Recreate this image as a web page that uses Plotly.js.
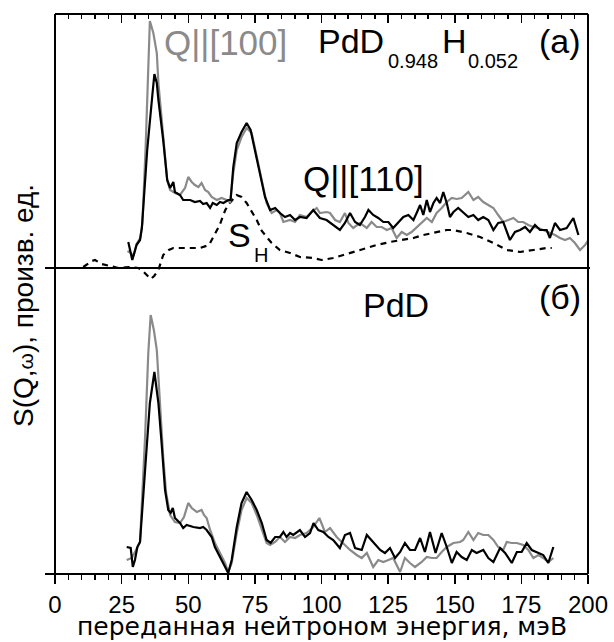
<!DOCTYPE html>
<html><head><meta charset="utf-8">
<script src="https://cdn.plot.ly/plotly-3.0.1.min.js"></script>
<style>html,body{margin:0;padding:0;background:#fff}#chart{width:614px;height:642px}</style>
</head><body><div id="chart"></div>
<script>
// Panel (a): PdD0.948H0.052  — [energy meV, intensity]
const a_Q100 = [[27.2,0.17],[28.5,0.15],[29.5,0.12],[30.6,0.24],[32.0,0.30],[32.8,0.45],[34.0,1.20],[35.0,2.00],[35.6,2.47],[36.9,2.35],[38.2,2.15],[38.8,1.85],[40.0,1.51],[41.3,1.18],[42.1,0.88],[43.2,0.78],[45.0,0.75],[46.9,0.73],[48.8,0.80],[50.0,0.91],[51.3,0.86],[52.5,0.83],[53.8,0.81],[55.0,0.85],[56.3,0.78],[57.5,0.76],[58.8,0.71],[60.7,0.68],[62.5,0.70],[64.4,0.68],[65.7,0.66],[66.9,0.95],[68.2,1.18],[70.0,1.31],[71.9,1.40],[73.8,1.35],[75.7,1.11],[77.6,0.86],[79.4,0.65],[81.3,0.55],[83.2,0.58],[84.4,0.55],[85.7,0.46],[88.2,0.48],[90.1,0.46],[91.9,0.53],[94.4,0.51],[96.3,0.56],[98.2,0.60],[99.4,0.55],[101.9,0.56],[103.2,0.55],[105.1,0.48],[106.9,0.46],[108.8,0.55],[110.1,0.45],[111.9,0.40],[114.4,0.45],[117.0,0.40],[118.8,0.46],[120.7,0.41],[122.6,0.41],[124.5,0.38],[126.3,0.40],[128.2,0.30],[130.1,0.36],[132.0,0.33],[133.8,0.36],[135.7,0.41],[137.6,0.45],[139.5,0.50],[141.4,0.46],[143.2,0.55],[145.1,0.60],[147.0,0.66],[148.9,0.70],[150.7,0.69],[152.6,0.70],[155.1,0.76],[157.0,0.68],[158.8,0.71],[160.7,0.66],[162.6,0.63],[164.5,0.60],[166.3,0.53],[168.2,0.46],[170.1,0.48],[172.0,0.50],[173.8,0.46],[175.7,0.46],[177.6,0.43],[179.5,0.41],[181.4,0.40],[183.2,0.38],[185.7,0.35],[187.6,0.33],[189.5,0.30],[191.4,0.28],[193.2,0.30],[195.1,0.25],[197.0,0.18],[198.9,0.23],[200.6,0.30]];
const a_Q110 = [[27.5,0.26],[29.0,0.08],[30.6,0.23],[31.9,0.28],[32.6,0.40],[34.6,1.18],[36.5,1.72],[37.3,1.94],[38.2,1.85],[38.8,1.68],[40.6,1.28],[42.1,0.88],[43.2,0.80],[44.4,0.86],[45.0,0.76],[46.9,0.73],[48.1,0.68],[50.7,0.68],[52.5,0.66],[54.4,0.67],[55.6,0.64],[56.9,0.65],[58.2,0.60],[59.2,0.65],[60.7,0.63],[61.9,0.66],[63.2,0.65],[65.0,0.68],[65.9,0.68],[66.9,1.01],[68.2,1.25],[70.0,1.36],[71.9,1.45],[73.4,1.38],[75.0,1.18],[76.9,0.95],[78.8,0.71],[80.7,0.58],[82.6,0.60],[84.4,0.55],[86.3,0.51],[88.2,0.53],[90.1,0.48],[91.9,0.51],[94.4,0.50],[96.9,0.58],[99.4,0.50],[101.9,0.48],[104.4,0.43],[106.9,0.38],[108.8,0.45],[110.7,0.55],[112.6,0.46],[114.4,0.43],[116.3,0.51],[117.6,0.58],[119.4,0.53],[121.3,0.50],[123.2,0.46],[125.1,0.46],[126.9,0.40],[128.8,0.46],[130.7,0.51],[132.6,0.53],[134.5,0.48],[135.7,0.55],[137.0,0.63],[138.2,0.53],[139.5,0.68],[140.7,0.56],[142.0,0.65],[143.2,0.70],[144.5,0.65],[145.7,0.76],[147.0,0.65],[148.2,0.51],[149.5,0.56],[151.3,0.60],[153.2,0.55],[155.1,0.51],[157.0,0.53],[158.8,0.48],[160.7,0.51],[162.6,0.48],[164.5,0.38],[166.3,0.45],[168.2,0.46],[170.7,0.28],[172.6,0.36],[174.5,0.38],[176.4,0.41],[178.2,0.36],[180.1,0.43],[182.0,0.38],[184.5,0.38],[185.7,0.30],[187.6,0.45],[189.5,0.38],[192.0,0.40],[194.5,0.50],[196.4,0.33]];
const a_SH = [[10.6,0.01],[13.8,0.07],[15.0,0.08],[17.5,0.04],[20.6,0.02],[23.8,0.00],[27.5,0.01],[31.3,0.00],[32.9,-0.03],[34.6,-0.08],[35.9,-0.11],[37.2,-0.08],[38.8,-0.02],[40.6,0.13],[42.7,0.18],[44.4,0.20],[46.9,0.20],[50.0,0.20],[54.4,0.20],[57.8,0.23],[59.4,0.31],[61.8,0.43],[63.9,0.58],[65.3,0.64],[68.1,0.73],[70.0,0.71],[71.9,0.65],[73.8,0.56],[75.7,0.48],[77.6,0.37],[79.4,0.31],[81.3,0.25],[84.4,0.18],[88.2,0.15],[91.9,0.11],[96.9,0.10],[100.0,0.08],[104.4,0.10],[108.2,0.13],[111.9,0.16],[116.3,0.20],[120.7,0.23],[125.7,0.26],[130.1,0.28],[134.5,0.30],[138.2,0.33],[143.2,0.36],[147.0,0.38],[149.5,0.38],[154.5,0.35],[159.5,0.31],[164.5,0.25],[169.5,0.18],[174.5,0.16],[179.5,0.18],[184.5,0.20],[186.4,0.20]];
// Panel (б): PdD
const b_Q100 = [[26.9,0.14],[28.8,0.16],[30.4,0.24],[31.9,0.32],[33.8,1.37],[35.0,2.21],[35.9,2.59],[37.1,2.44],[38.2,2.24],[39.4,1.71],[40.6,1.17],[41.7,0.81],[43.2,0.59],[45.0,0.52],[46.9,0.51],[48.4,0.57],[50.0,0.71],[51.3,0.66],[53.2,0.62],[55.0,0.64],[55.9,0.59],[56.9,0.56],[58.2,0.44],[60.0,0.31],[61.9,0.21],[63.8,0.11],[65.0,0.02],[66.3,0.11],[68.2,0.41],[70.0,0.64],[71.9,0.76],[73.8,0.71],[75.7,0.59],[77.6,0.44],[79.4,0.31],[80.7,0.29],[82.6,0.32],[84.4,0.37],[86.3,0.32],[88.2,0.37],[90.1,0.36],[91.9,0.39],[94.4,0.41],[96.9,0.47],[99.2,0.56],[101.3,0.42],[103.2,0.46],[105.7,0.37],[106.9,0.34],[110.7,0.24],[113.2,0.19],[115.1,0.16],[117.0,0.21],[119.4,0.07],[121.3,0.14],[123.2,0.12],[125.1,0.14],[126.9,0.16],[129.5,0.02],[131.3,0.16],[133.2,0.11],[135.1,0.07],[137.6,0.12],[139.5,0.17],[141.4,0.16],[143.2,0.16],[145.1,0.22],[147.0,0.27],[149.5,0.31],[152.0,0.32],[153.2,0.34],[155.1,0.42],[157.0,0.34],[158.8,0.41],[160.7,0.39],[162.6,0.39],[164.5,0.34],[166.3,0.27],[168.2,0.24],[169.5,0.32],[171.4,0.31],[173.3,0.31],[175.7,0.29],[177.6,0.24],[179.5,0.16],[181.4,0.19],[183.2,0.16],[185.1,0.12],[187.0,0.16]];
const b_Q110 = [[26.9,0.27],[28.4,0.26],[29.2,0.07],[30.0,0.14],[30.9,0.27],[31.9,0.32],[33.8,1.04],[35.6,1.71],[37.3,2.02],[38.8,1.71],[40.0,1.31],[41.3,0.84],[42.5,0.64],[43.4,0.61],[44.2,0.66],[45.0,0.56],[46.9,0.51],[48.1,0.46],[49.4,0.49],[51.9,0.47],[54.4,0.46],[55.6,0.47],[56.9,0.44],[58.8,0.37],[60.0,0.27],[61.9,0.17],[63.8,0.07],[65.0,0.01],[66.3,0.14],[68.2,0.47],[70.0,0.71],[71.9,0.82],[73.8,0.74],[75.7,0.64],[77.6,0.51],[79.4,0.34],[80.9,0.31],[82.6,0.37],[84.4,0.37],[85.7,0.42],[86.9,0.37],[88.2,0.41],[89.4,0.39],[90.7,0.42],[91.9,0.44],[93.8,0.37],[95.7,0.41],[97.0,0.51],[98.8,0.44],[100.7,0.42],[102.6,0.37],[104.4,0.34],[106.9,0.26],[108.8,0.39],[110.7,0.41],[112.6,0.26],[115.1,0.24],[117.0,0.39],[119.4,0.32],[122.0,0.24],[123.8,0.21],[125.7,0.26],[127.6,0.16],[129.5,0.22],[131.3,0.31],[133.2,0.24],[135.1,0.24],[137.0,0.36],[138.8,0.22],[140.7,0.42],[142.8,0.21],[145.1,0.41],[147.0,0.27],[148.9,0.11],[150.7,0.22],[152.6,0.17],[154.5,0.14],[156.4,0.24],[158.2,0.21],[160.7,0.24],[162.6,0.16],[164.5,0.12],[167.0,0.26],[168.9,0.21],[171.4,0.11],[173.3,0.22],[175.1,0.22],[177.0,0.31],[178.9,0.24],[180.7,0.22],[183.2,0.19],[185.1,0.11],[187.0,0.27]];
const xTickVals = [0,25,50,75,100,125,150,175,200];
const xTickText = ['0','25','50','75','100','125','150','175','200'];

const FONT = 'Liberation Sans, Arial, Helvetica, sans-serif';
const GRAY = '#8a8a8a';
const LW = 2.2;
// pixel -> paper helpers (plot area: x 55..588, y 14..574)
const L = 55, R = 588, T = 14, B = 574;
const px = p => (p - L) / (R - L);
const py = p => (B - p) / (B - T);

function line(pairs, color, xa, ya, dash) {
  return {x: pairs.map(d => d[0]), y: pairs.map(d => d[1]), xaxis: xa, yaxis: ya,
    type: 'scatter', mode: 'lines', hoverinfo: 'skip',
    line: {color: color, width: LW, dash: dash || 'solid'}};
}
const traces = [
  line(a_SH, '#000', 'x2', 'y2', '6px,5px'),
  line(a_Q100, GRAY, 'x2', 'y2'),
  line(a_Q110, '#000', 'x2', 'y2'),
  line(b_Q100, GRAY, 'x', 'y'),
  line(b_Q110, '#000', 'x', 'y'),
];

function ann(text, left, baseline, fs, color, extra) {
  return Object.assign({xref: 'paper', yref: 'paper', x: px(left), y: py(baseline - 0.35 * fs),
    xanchor: 'left', yanchor: 'middle', showarrow: false, text: text,
    font: {family: FONT, size: fs, color: color || '#000'}}, extra || {});
}
const annotations = [
  ann('Q||[100]', 162, 55, 35, GRAY),
  ann('PdD', 316, 53, 34),
  ann('0.948', 386, 68, 20),
  ann('H', 440, 53, 34),
  ann('0.052', 466, 68, 20),
  ann('(a)', 537, 53, 34),
  ann('Q||[110]', 301, 191, 35),
  ann('S', 226, 247, 34),
  ann('H', 252, 262, 20),
  ann('PdD', 361, 317, 34),
  ann('(б)', 537, 309, 34),
  {xref: 'paper', yref: 'paper', x: px(322), y: py(635.5 - 0.35 * 25), xanchor: 'center', yanchor: 'middle',
   showarrow: false, text: 'переданная нейтроном энергия, мэВ', font: {family: 'DejaVu Sans, sans-serif', size: 25, color: '#000'}},
  {xref: 'paper', yref: 'paper', x: px(24), y: py(306), xanchor: 'center', yanchor: 'middle', textangle: -90,
   showarrow: false, text: 'S(Q,<span style="font-size:21px">ω</span>), произв. ед.', font: {family: FONT, size: 28, color: '#000'}},
];

const lineStyle = {color: '#000', width: 2};
const shapes = [
  {type: 'line', xref: 'paper', yref: 'paper', x0: 0, x1: 0, y0: 0, y1: 1, line: lineStyle},
  {type: 'line', xref: 'paper', yref: 'paper', x0: 1, x1: 1, y0: 0, y1: 1, line: lineStyle},
  {type: 'line', xref: 'paper', yref: 'paper', x0: 0, x1: 1, y0: 1, y1: 1, line: lineStyle},
  {type: 'line', xref: 'paper', yref: 'paper', x0: px(45), x1: px(590), y0: py(268), y1: py(268), line: lineStyle},
  {type: 'line', xref: 'paper', yref: 'paper', x0: px(45), x1: 1, y0: 0, y1: 0, line: lineStyle},
];

const xCommon = {range: [0, 200], showgrid: false, zeroline: false, showline: false,
  tickvals: xTickVals, ticktext: xTickText, tickcolor: '#000', tickwidth: 1.5, ticklen: 9,
  minor: {dtick: 5, tick0: 0, ticklen: 5, tickwidth: 1.5, tickcolor: '#000'}};
const layout = {
  width: 614, height: 642, margin: {l: L, r: 614 - R, t: T, b: 642 - B},
  paper_bgcolor: '#fff', plot_bgcolor: 'rgba(0,0,0,0)', showlegend: false,
  font: {family: FONT, color: '#000'},
  xaxis: Object.assign({}, xCommon, {domain: [0, 1], anchor: 'y', side: 'bottom', ticks: 'outside',
    minor: Object.assign({}, xCommon.minor, {ticks: 'outside'}),
    tickfont: {family: FONT, size: 24, color: '#000'}}),
  xaxis2: Object.assign({}, xCommon, {domain: [0, 1], anchor: 'y2', side: 'top', ticks: 'inside',
    minor: Object.assign({}, xCommon.minor, {ticks: 'inside'}), showticklabels: false}),
  yaxis: {domain: [0, py(268)], range: [0, (B - 268) / 100], visible: false, fixedrange: true},
  yaxis2: {domain: [py(294), 1], range: [(268 - 294) / 100, (268 - T) / 100], visible: false, fixedrange: true},
  annotations: annotations, shapes: shapes
};
Plotly.newPlot('chart', traces, layout, {staticPlot: true, displayModeBar: false});
</script></body></html>
